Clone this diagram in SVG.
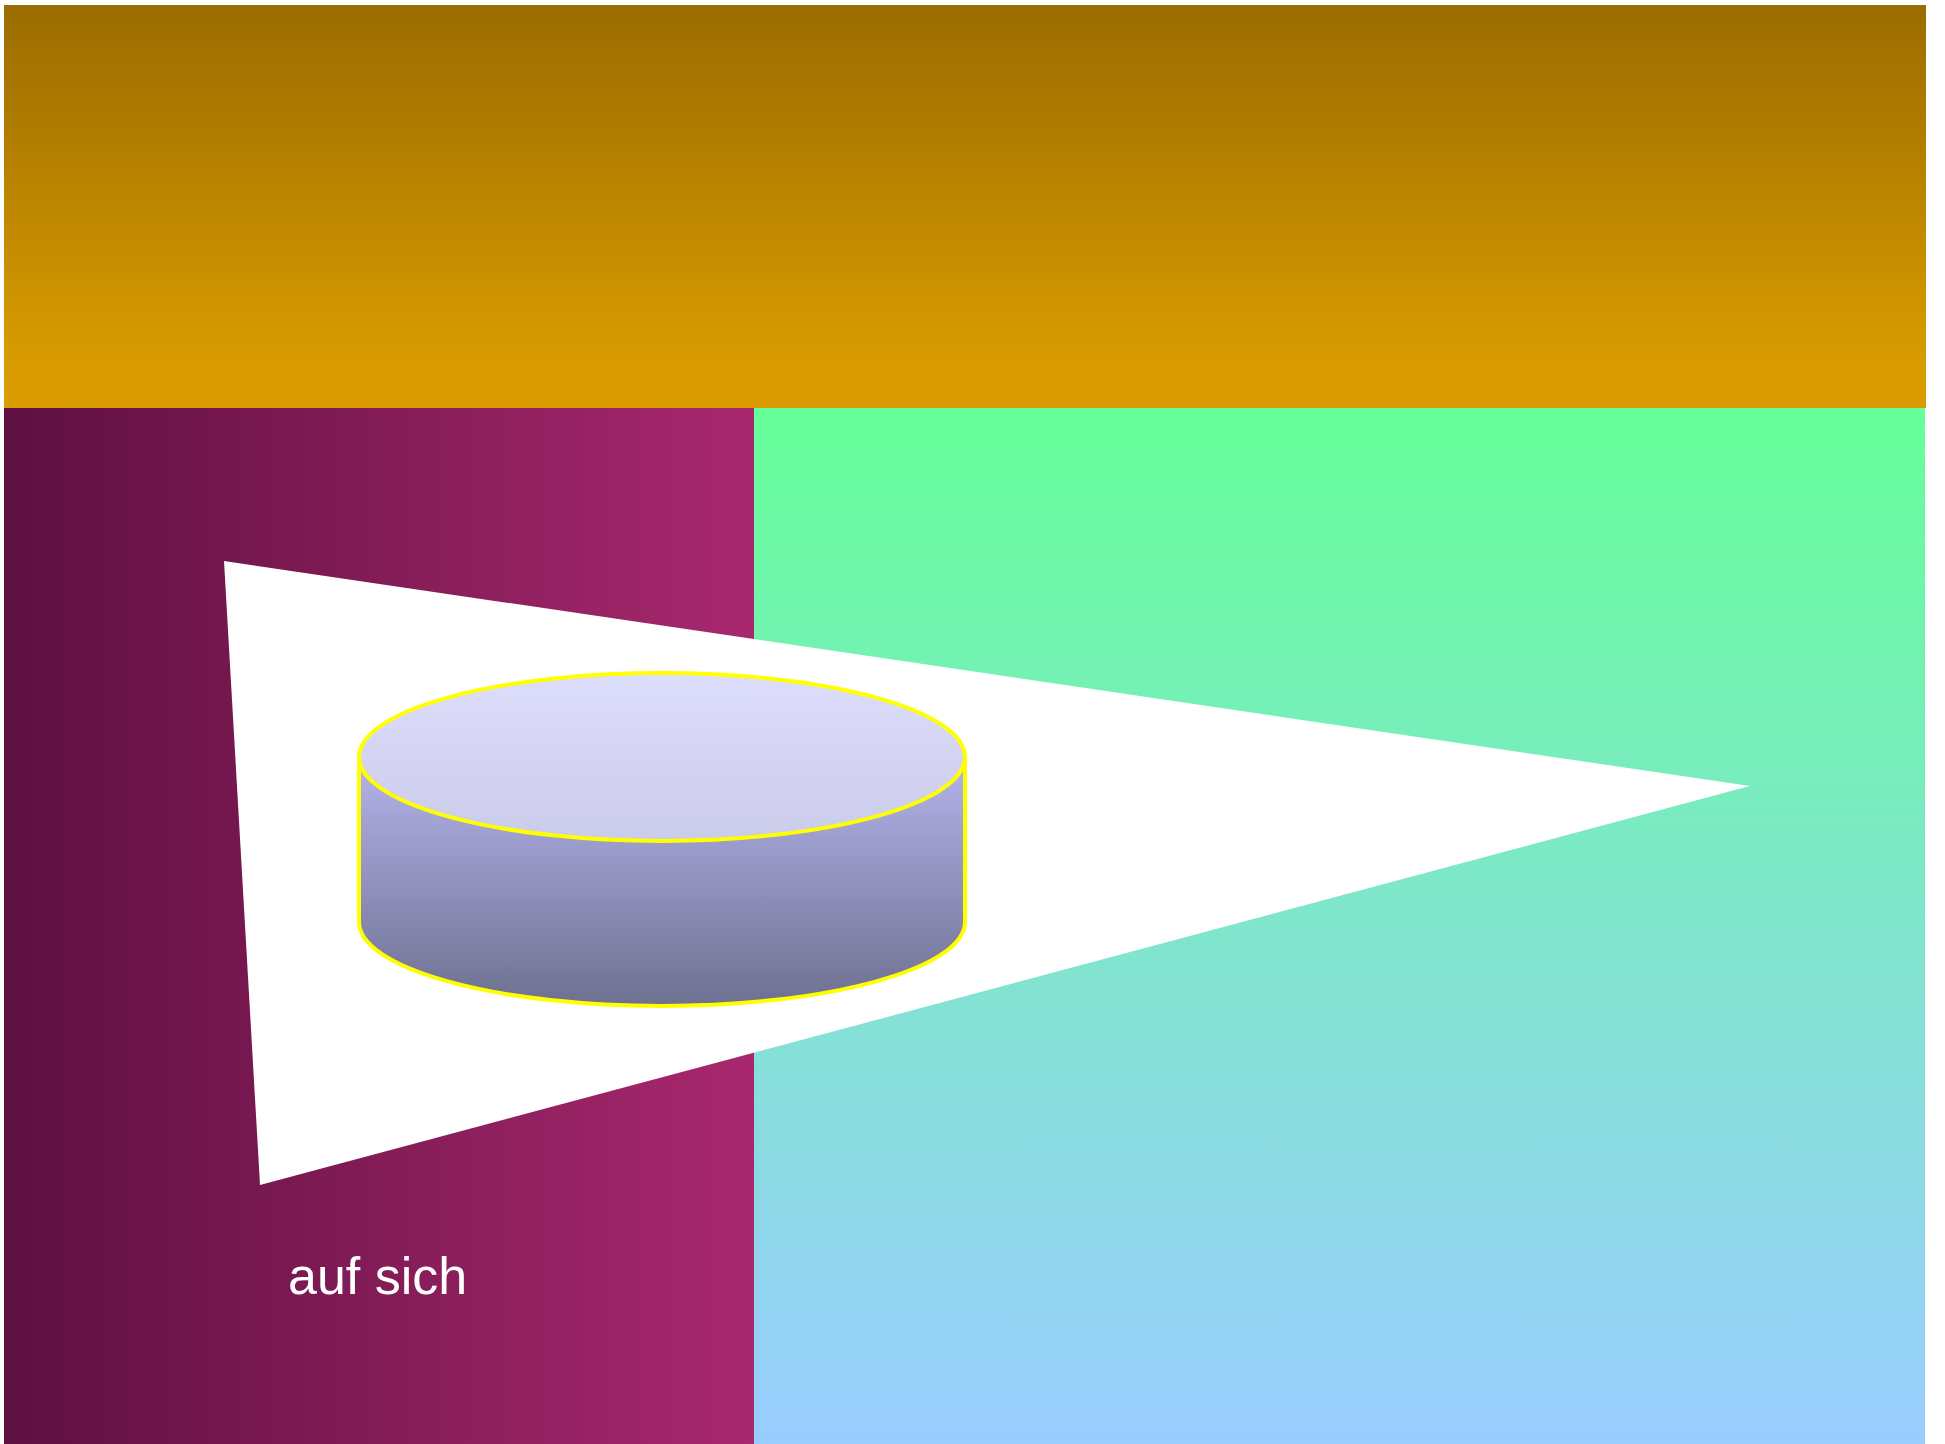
<svg xmlns="http://www.w3.org/2000/svg" width="1945" height="1444" viewBox="0 0 1945 1444">
  <defs>
    <linearGradient id="gOrange" x1="0" y1="0" x2="0" y2="1">
      <stop offset="0" stop-color="#9b6c00"/>
      <stop offset="0.9" stop-color="#d99c00"/>
      <stop offset="1" stop-color="#da9c00"/>
    </linearGradient>
    <linearGradient id="gPurple" x1="0" y1="0" x2="1" y2="0">
      <stop offset="0" stop-color="#5e1040"/>
      <stop offset="1" stop-color="#a8286e"/>
    </linearGradient>
    <linearGradient id="gGreen" x1="0" y1="0" x2="0" y2="1">
      <stop offset="0" stop-color="#66ff99"/>
      <stop offset="1" stop-color="#99ccff"/>
    </linearGradient>
    <linearGradient id="gBody" x1="0" y1="0" x2="0" y2="1">
      <stop offset="0" stop-color="#b4b4ec"/>
      <stop offset="1" stop-color="#6e7090"/>
    </linearGradient>
    <linearGradient id="gTop" x1="0" y1="0" x2="0" y2="1">
      <stop offset="0" stop-color="#dddefb"/>
      <stop offset="1" stop-color="#cbcbea"/>
    </linearGradient>
  </defs>
  <style>
    .cyl { stroke: #ffff00; stroke-width: 4; }
    .lbl { font-family: "Liberation Sans", Arial, sans-serif; font-size: 52px; fill: #ffffff; }
  </style>
  <rect x="0" y="0" width="1945" height="1444" fill="#ffffff"/>
  <g id="band-top">
    <rect x="4" y="5" width="1922" height="403" fill="url(#gOrange)"/>
  </g>
  <g id="region-left">
    <rect x="4" y="408" width="750" height="1036" fill="url(#gPurple)"/>
  </g>
  <g id="region-right">
    <rect x="754" y="408" width="1171" height="1036" fill="url(#gGreen)"/>
  </g>
  <g id="pennant">
    <polygon points="224,561 1750,786 260,1185" fill="#ffffff"/>
  </g>
  <g id="cylinder">
    <path class="cyl" d="M359,757 L359,922 A303,84 0 0 0 965,922 L965,757 Z" fill="url(#gBody)"/>
    <ellipse class="cyl" cx="662" cy="757" rx="303" ry="84" fill="url(#gTop)"/>
  </g>
  <g id="label">
    <text class="lbl" x="288" y="1294">auf sich</text>
  </g>
  <g id="connectors"/>
</svg>
